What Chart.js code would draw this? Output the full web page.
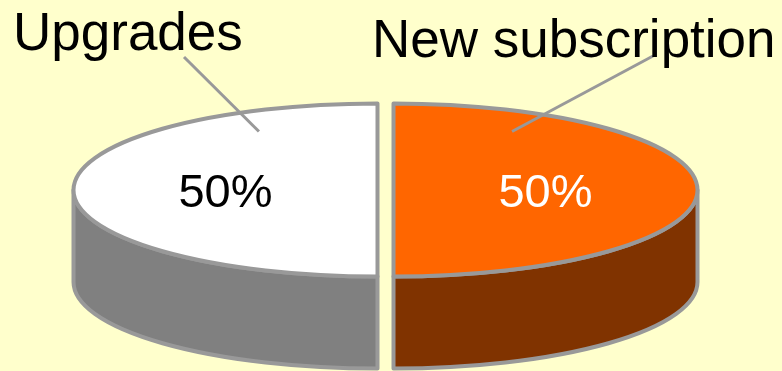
<!DOCTYPE html>
<html>
<head>
<meta charset="utf-8">
<script src="https://cdn.jsdelivr.net/npm/chart.js@4"></script>
<style>
  html, body { margin: 0; padding: 0; background: #ffffcc; overflow: hidden; }
  canvas { display: block; }
</style>
</head>
<body>
<canvas id="shareChart" width="782" height="371"></canvas>
<script>
const labels = ['Upgrades', 'New subscription'];
const shares = [50, 50];

const topColors = ['#ffffff', '#ff6600'];
const sideColors = ['#808080', '#803300'];
const valueColors = ['#000000', '#ffffff'];

// draws the pie as a tilted disc with a rim, using the arc geometry Chart.js computed
const pie3d = {
  id: 'pie3d',
  beforeDatasetsDraw(chart, args, opts) {
    const ctx = chart.ctx;
    const arcs = chart.getDatasetMeta(0).data;
    const total = shares.reduce((a, b) => a + b, 0);

    const slices = arcs.map((arc, i) => {
      const p = arc.getProps(['x', 'y', 'startAngle', 'endAngle', 'outerRadius'], true);
      const mid = (p.startAngle + p.endAngle) / 2;
      const off = arc.options.offset || 0;
      return {
        i, mid,
        start: p.startAngle,
        end: p.endAngle,
        cx: p.x + Math.cos(mid) * off,
        cy: p.y + Math.sin(mid) * off * opts.stretchY,
        rx: p.outerRadius * opts.stretchX,
        ry: p.outerRadius * opts.stretchY,
        depth: p.outerRadius * opts.depth
      };
    });

    ctx.save();
    ctx.lineJoin = 'round';
    ctx.lineWidth = opts.borderWidth;
    ctx.strokeStyle = opts.borderColor;

    // rim: only the front half of the disc is visible
    slices.forEach(s => {
      for (let k = -1; k <= 2; k++) {
        const a0 = Math.max(s.start, 2 * Math.PI * k);
        const a1 = Math.min(s.end, 2 * Math.PI * k + Math.PI);
        if (a1 <= a0) continue;
        ctx.beginPath();
        ctx.ellipse(s.cx, s.cy, s.rx, s.ry, 0, a0, a1);
        ctx.lineTo(s.cx + Math.cos(a1) * s.rx, s.cy + s.depth + Math.sin(a1) * s.ry);
        ctx.ellipse(s.cx, s.cy + s.depth, s.rx, s.ry, 0, a1, a0, true);
        ctx.closePath();
        ctx.fillStyle = sideColors[s.i];
        ctx.fill();
        ctx.stroke();
      }
    });

    // top faces
    slices.forEach(s => {
      ctx.beginPath();
      ctx.moveTo(s.cx, s.cy);
      ctx.ellipse(s.cx, s.cy, s.rx, s.ry, 0, s.start, s.end);
      ctx.closePath();
      ctx.fillStyle = topColors[s.i];
      ctx.fill();
      ctx.stroke();
    });

    // percentages on the top faces
    ctx.textAlign = 'center';
    ctx.textBaseline = 'alphabetic';
    ctx.font = opts.valueSize + 'px "Liberation Sans", Arial, sans-serif';
    slices.forEach(s => {
      const pct = Math.round(shares[s.i] / total * 100) + '%';
      const x = s.cx + Math.cos(s.mid) * s.rx * 0.5;
      const y = s.cy + Math.sin(s.mid) * s.ry * 0.5 + opts.valueSize * 0.358;
      ctx.fillStyle = valueColors[s.i];
      ctx.fillText(pct, x, y);
    });

    // category names with leader lines
    ctx.lineWidth = opts.leaderWidth;
    ctx.textAlign = 'left';
    ctx.font = opts.titleSize + 'px "Liberation Sans", Arial, sans-serif';
    slices.forEach(s => {
      const t = opts.titles[s.i];
      const side = Math.cos(s.mid) < 0 ? -1 : 1;
      const a = -Math.PI / 2 + side * Math.PI / 6;
      const ax = s.cx + Math.cos(a) * s.rx * 0.78;
      const ay = s.cy + Math.sin(a) * s.ry * 0.78;
      ctx.beginPath();
      ctx.moveTo(t.lx, t.ly);
      ctx.lineTo(ax, ay);
      ctx.stroke();
      ctx.fillStyle = '#000000';
      ctx.fillText(labels[s.i], t.x, t.y);
    });

    ctx.restore();
    return false;
  }
};

new Chart(document.getElementById('shareChart'), {
  type: 'pie',
  data: {
    labels: labels,
    datasets: [{
      data: shares,
      backgroundColor: topColors,
      borderWidth: 0,
      offset: 8
    }]
  },
  options: {
    responsive: false,
    animation: false,
    rotation: 180,
    layout: { padding: { top: 9, right: 11, bottom: 0, left: 0 } },
    plugins: {
      legend: { display: false },
      tooltip: { enabled: false },
      pie3d: {
        stretchX: 1.7175,
        stretchY: 0.489,
        depth: 0.52,
        borderWidth: 4,
        borderColor: '#999999',
        leaderWidth: 3,
        valueSize: 47,
        titleSize: 53,
        titles: [
          { x: 13, y: 50, lx: 184, ly: 57 },
          { x: 372, y: 57, lx: 653, ly: 56 }
        ]
      }
    }
  },
  plugins: [pie3d]
});
</script>
</body>
</html>
